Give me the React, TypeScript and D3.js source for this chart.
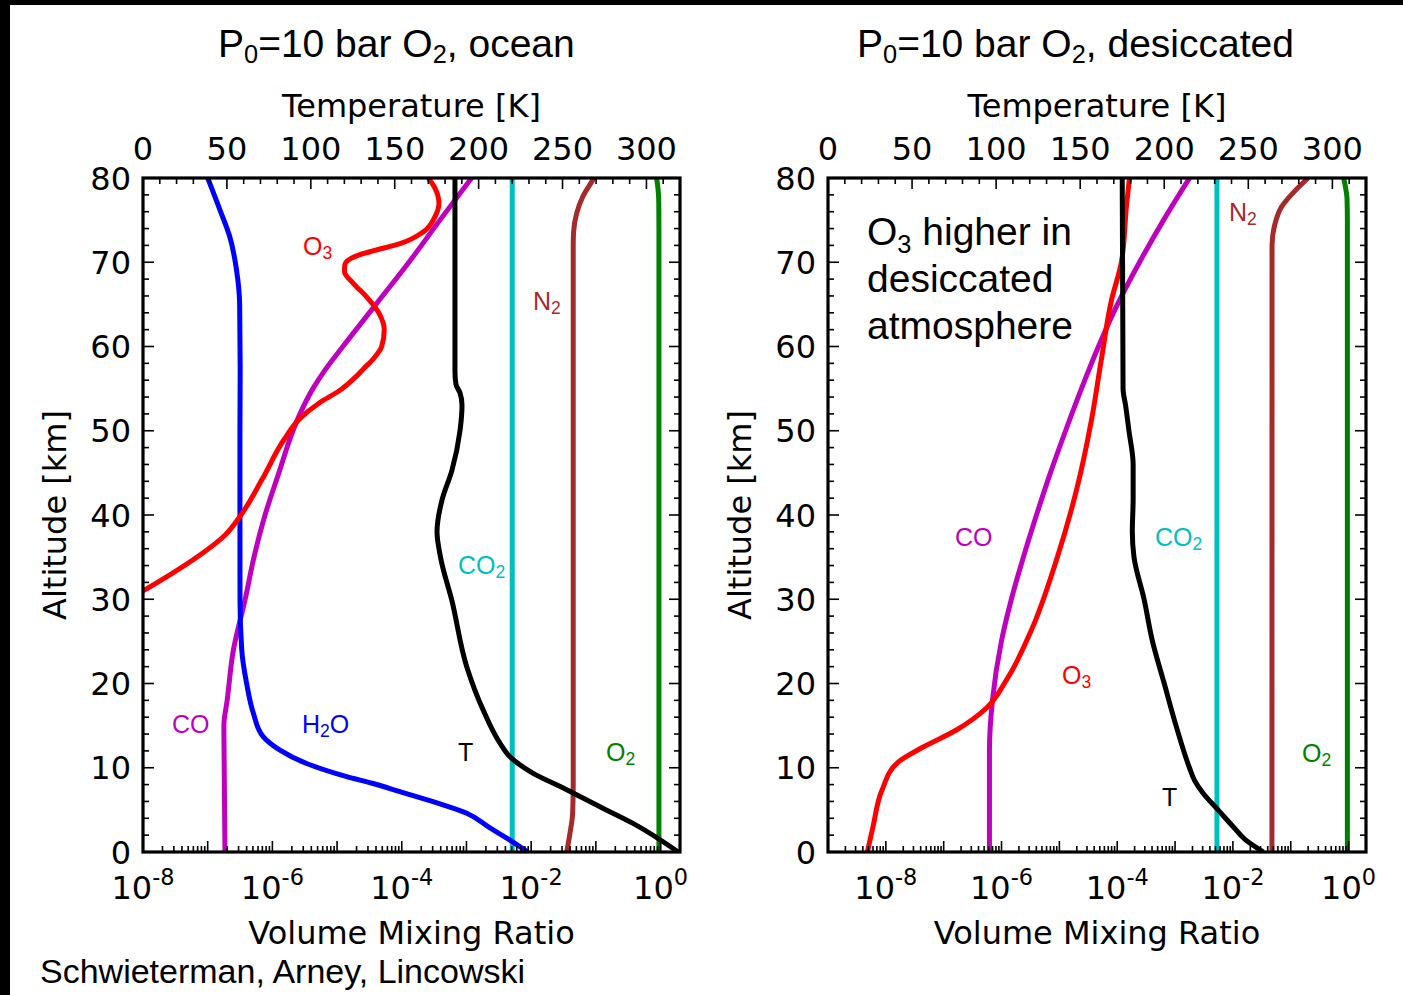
import React from "react";
import * as d3 from "d3";

// ---------------- data ----------------
const altTicks = [0, 10, 20, 30, 40, 50, 60, 70, 80];
const tempTicks = [0, 50, 100, 150, 200, 250, 300];
const vmrLabelExponents = [-8, -6, -4, -2, 0];

// Ocean case (left panel)
const oceanO3Alt = [29, 31, 32.9, 35.25, 37.6, 40, 44.2, 48.9, 51.5, 53.3, 54.8, 56.3, 57.4, 58.6, 60, 62, 63.9, 65.9, 67.5, 68.9, 69.7, 70.3, 70.9, 71.4, 72.2, 73.6, 75.4, 77, 78.8, 80];
const oceanO3 = [3e-9, 1e-8, 2.6e-8, 7.6e-8, 1.85e-7, 3.27e-7, 6.9e-7, 1.5e-6, 2.7e-6, 5.3e-6, 1.11e-5, 1.89e-5, 2.6e-5, 3.7e-5, 4.89e-5, 5.36e-5, 4.49e-5, 2.86e-5, 1.78e-5, 1.3e-5, 1.32e-5, 1.52e-5, 2.26e-5, 3.8e-5, 9.4e-5, 2.15e-4, 3.26e-4, 3.76e-4, 3.26e-4, 2.57e-4];

const oceanCOAlt = [0, 10, 15, 18, 24, 30, 35, 40, 45, 50, 52, 55, 57.2, 60, 65, 70, 75, 80];
const oceanCO = [1.85e-7, 1.8e-7, 1.78e-7, 2.0e-7, 2.5e-7, 3.8e-7, 5.2e-7, 7.7e-7, 1.26e-6, 2.08e-6, 2.67e-6, 4.23e-6, 6.5e-6, 1.23e-5, 3.99e-5, 1.29e-4, 3.89e-4, 1.2e-3];

const oceanH2OAlt = [0, 1.42, 2.85, 4.6, 5.82, 7.16, 8.13, 8.94, 10.5, 12.1, 13.7, 16.5, 20, 24, 29.9, 50, 57.2, 65, 69, 73, 76.2, 80];
const oceanH2O = [8.93e-3, 4.7e-3, 2.31e-3, 1.01e-3, 3.5e-4, 9.38e-5, 3.59e-5, 1.41e-5, 3.39e-6, 1.31e-6, 7.2e-7, 5.07e-7, 4.0e-7, 3.36e-7, 3.16e-7, 3.15e-7, 3.18e-7, 3.12e-7, 2.8e-7, 2.2e-7, 1.55e-7, 1.0e-7];

const oceanTAlt = [0, 3.4, 5.4, 7.4, 9.4, 11.3, 12.9, 16.9, 22, 29.9, 34.7, 38, 41.8, 45.3, 50, 53, 54.5, 55.5, 57, 80];
const oceanT = [319, 292, 272, 252.5, 232, 218.7, 212.8, 202.6, 192.9, 184, 177.6, 175.2, 178.2, 184.1, 188.9, 190.1, 188.9, 186.5, 185.9, 185.9];

const oceanCO2Alt = [0, 80];
const oceanCO2 = [0.0051, 0.0051];

const oceanN2Alt = [0, 2.2, 4.6, 8, 72, 73.5, 75.8, 77.8, 79.8, 80];
const oceanN2 = [0.0355, 0.0398, 0.0438, 0.0447, 0.0447, 0.0452, 0.0505, 0.063, 0.09, 0.093];

const oceanO2Alt = [0, 74, 77, 78.5, 80];
const oceanO2 = [0.945, 0.945, 0.94, 0.92, 0.87];

// Desiccated case (right panel)
const dryO3Alt = [0, 3, 7.36, 10.68, 12.34, 14.48, 17.09, 20.42, 26.35, 34.66, 42.97, 51.28, 58.4, 65.5, 70, 76.8, 80];
const dryO3 = [4.8e-9, 6.0e-9, 8.6e-9, 1.64e-8, 4.1e-8, 1.66e-7, 5.5e-7, 1.22e-6, 3.29e-6, 8.9e-6, 1.98e-5, 3.59e-5, 5.3e-5, 7.96e-5, 1.18e-4, 1.45e-4, 1.63e-4];

const dryCOAlt = [0, 12, 18, 25, 30, 35, 40, 45, 50, 55, 60, 65, 70, 75, 80];
const dryCO = [6.18e-7, 6.18e-7, 6.97e-7, 9.95e-7, 1.48e-6, 2.39e-6, 4.02e-6, 7.0e-6, 1.28e-5, 2.41e-5, 4.74e-5, 1.01e-4, 2.43e-4, 6.32e-4, 1.78e-3];

const dryTAlt = [0, 1.5, 3, 5, 7, 8.5, 10, 15, 20, 25, 30, 35, 38, 42, 46, 50, 53, 55, 80];
const dryT = [259, 248, 241, 232, 223, 218, 215, 207, 200, 193, 188, 182, 181, 181.5, 181.5, 179, 177, 175.5, 175];

const dryCO2Alt = [0, 80];
const dryCO2 = [0.0053, 0.0053];

const dryN2Alt = [0, 72, 74.4, 76.6, 78.3, 80];
const dryN2 = [0.0473, 0.0475, 0.0527, 0.0697, 0.112, 0.2];

const dryO2Alt = [0, 75, 77.5, 79, 80];
const dryO2 = [0.953, 0.953, 0.94, 0.88, 0.82];

// ---------------- styles ----------------
const COLORS: Record<string, string> = {
  O3: "#ff0000",
  CO: "#bf00bf",
  H2O: "#0000ff",
  T: "#000000",
  CO2: "#00bfbf",
  N2: "#a52a2a",
  O2: "#008000",
};

const FONT_MPL = "'DejaVu Sans', sans-serif";
const FONT_ARIAL = "'Liberation Sans', Arial, Helvetica, sans-serif";
const FS_TICK = 32;
const FS_AXIS = 32;
const Y_TOP = 178;
const Y_BOT = 852;

type Series = { name: string; alt: number[]; val: number[]; kind: "vmr" | "temp" };
type Part = { t: string; sub?: boolean };

const oceanSeries: Series[] = [
  { name: "O2", alt: oceanO2Alt, val: oceanO2, kind: "vmr" },
  { name: "N2", alt: oceanN2Alt, val: oceanN2, kind: "vmr" },
  { name: "CO2", alt: oceanCO2Alt, val: oceanCO2, kind: "vmr" },
  { name: "CO", alt: oceanCOAlt, val: oceanCO, kind: "vmr" },
  { name: "H2O", alt: oceanH2OAlt, val: oceanH2O, kind: "vmr" },
  { name: "O3", alt: oceanO3Alt, val: oceanO3, kind: "vmr" },
  { name: "T", alt: oceanTAlt, val: oceanT, kind: "temp" },
];

const drySeries: Series[] = [
  { name: "O2", alt: dryO2Alt, val: dryO2, kind: "vmr" },
  { name: "N2", alt: dryN2Alt, val: dryN2, kind: "vmr" },
  { name: "CO2", alt: dryCO2Alt, val: dryCO2, kind: "vmr" },
  { name: "CO", alt: dryCOAlt, val: dryCO, kind: "vmr" },
  { name: "O3", alt: dryO3Alt, val: dryO3, kind: "vmr" },
  { name: "T", alt: dryTAlt, val: dryT, kind: "temp" },
];

const LABEL_PARTS: Record<string, Part[]> = {
  O3: [{ t: "O" }, { t: "3", sub: true }],
  N2: [{ t: "N" }, { t: "2", sub: true }],
  CO2: [{ t: "CO" }, { t: "2", sub: true }],
  CO: [{ t: "CO" }],
  H2O: [{ t: "H" }, { t: "2", sub: true }, { t: "O" }],
  T: [{ t: "T" }],
  O2: [{ t: "O" }, { t: "2", sub: true }],
};

function Rich({ x, y, parts, size, color, family = FONT_ARIAL, subScale = 0.7, subShift = 0.16, anchor = "start" }: any) {
  const kids: any[] = [];
  let shifted = false;
  parts.forEach((p: Part, i: number) => {
    if (p.sub) {
      kids.push(
        <tspan key={i} fontSize={size * subScale} dy={shifted ? 0 : size * subShift}>
          {p.t}
        </tspan>
      );
      shifted = true;
    } else {
      kids.push(
        <tspan key={i} fontSize={size} dy={shifted ? -size * subShift : 0}>
          {p.t}
        </tspan>
      );
      shifted = false;
    }
  });
  return (
    <text x={x} y={y} fill={color} fontFamily={family} fontSize={size} textAnchor={anchor}>
      {kids}
    </text>
  );
}

function Panel({ id, x0, x1, vmrDomain, series, labels, title, titleX }: any) {
  const y = d3.scaleLinear().domain([0, 80]).range([Y_BOT, Y_TOP]);
  const xv = d3.scaleLog().domain(vmrDomain).range([x0, x1]);
  const xt = d3.scaleLinear().domain([0, 320]).range([x0, x1]);
  const cx = (x0 + x1) / 2;

  const lineGen = (s: Series) => {
    const pts = s.alt.map((a, i) => [a, s.val[i]]);
    return d3
      .line<number[]>()
      .x((d) => (s.kind === "temp" ? xt(d[1]) : xv(d[1])))
      .y((d) => y(d[0]))
      .curve(d3.curveMonotoneY)(pts) as string;
  };

  const MAJ = 11, MIN = 6;
  const tickEls: any[] = [];
  const altMinor = d3.range(0, 81, 2).filter((v) => v % 10 !== 0);
  altTicks.forEach((a) => {
    tickEls.push(<line key={"la" + a} x1={x0} x2={x0 + MAJ} y1={y(a)} y2={y(a)} />);
    tickEls.push(<line key={"ra" + a} x1={x1} x2={x1 - MAJ} y1={y(a)} y2={y(a)} />);
  });
  altMinor.forEach((a) => {
    tickEls.push(<line key={"lam" + a} x1={x0} x2={x0 + MIN} y1={y(a)} y2={y(a)} />);
    tickEls.push(<line key={"ram" + a} x1={x1} x2={x1 - MIN} y1={y(a)} y2={y(a)} />);
  });
  d3.range(0, 321, 10).forEach((t) => {
    const major = t % 50 === 0;
    tickEls.push(<line key={"t" + t} x1={xt(t)} x2={xt(t)} y1={Y_TOP} y2={Y_TOP + (major ? MAJ : MIN)} />);
  });
  const kMin = Math.floor(Math.log10(vmrDomain[0]));
  const kMax = Math.ceil(Math.log10(vmrDomain[1]));
  for (let k = kMin; k <= kMax; k++) {
    const base = Math.pow(10, k);
    if (base >= vmrDomain[0] && base <= vmrDomain[1]) {
      tickEls.push(<line key={"b" + k} x1={xv(base)} x2={xv(base)} y1={Y_BOT} y2={Y_BOT - MAJ} />);
    }
    for (let s = 2; s <= 9; s++) {
      const v = s * base;
      if (v > vmrDomain[0] && v < vmrDomain[1]) {
        tickEls.push(<line key={"bm" + k + "_" + s} x1={xv(v)} x2={xv(v)} y1={Y_BOT} y2={Y_BOT - MIN} />);
      }
    }
  }

  return (
    <g>
      <defs>
        <clipPath id={id}>
          <rect x={x0} y={Y_TOP} width={x1 - x0} height={Y_BOT - Y_TOP} />
        </clipPath>
      </defs>
      <g clipPath={`url(#${id})`}>
        {series.map((s: Series) => (
          <path key={s.name} d={lineGen(s)} fill="none" stroke={COLORS[s.name]} strokeWidth={5} strokeLinejoin="round" strokeLinecap="butt" />
        ))}
      </g>
      <g stroke="#000" strokeWidth={1.6}>{tickEls}</g>
      <rect x={x0} y={Y_TOP} width={x1 - x0} height={Y_BOT - Y_TOP} fill="none" stroke="#000" strokeWidth={3.2} />

      <g fontFamily={FONT_MPL} fontSize={FS_TICK} fill="#000">
        {altTicks.map((a) => (
          <text key={a} x={x0 - 12} y={y(a)} dy="0.36em" textAnchor="end">
            {a}
          </text>
        ))}
        {tempTicks.map((t) => (
          <text key={t} x={xt(t)} y={160} textAnchor="middle">
            {t}
          </text>
        ))}
        {vmrLabelExponents.map((e) => (
          <text key={e} x={xv(Math.pow(10, e))} y={899} textAnchor="middle">
            <tspan>10</tspan>
            <tspan fontSize={FS_TICK * 0.7} dy={-FS_TICK * 0.45}>
              {String(e)}
            </tspan>
          </text>
        ))}
      </g>

      <g fontFamily={FONT_MPL} fontSize={FS_AXIS} fill="#000">
        <text x={cx} y={117} textAnchor="middle">Temperature [K]</text>
        <text x={cx} y={944} textAnchor="middle">Volume Mixing Ratio</text>
        <text transform={`translate(${x0 - 77},${(Y_TOP + Y_BOT) / 2}) rotate(-90)`} textAnchor="middle">
          Altitude [km]
        </text>
      </g>

      <Rich x={titleX} y={57} size={39} color="#000" parts={title} subScale={0.65} subShift={0.15} />

      {labels.map((l: any) => (
        <Rich key={l.name} x={l.x} y={l.y} size={25} color={COLORS[l.name]} parts={LABEL_PARTS[l.name]} />
      ))}
    </g>
  );
}

export default function App() {
  const W = 1403, H = 995;
  const oceanLabels = [
    { name: "O3", x: 303, y: 255 },
    { name: "N2", x: 533, y: 310 },
    { name: "CO2", x: 458, y: 574 },
    { name: "CO", x: 172, y: 733 },
    { name: "H2O", x: 302, y: 733 },
    { name: "T", x: 458, y: 761 },
    { name: "O2", x: 606, y: 761 },
  ];
  const dryLabels = [
    { name: "N2", x: 1229, y: 221 },
    { name: "CO", x: 955, y: 546 },
    { name: "CO2", x: 1155, y: 546 },
    { name: "O3", x: 1062, y: 684 },
    { name: "T", x: 1162, y: 806 },
    { name: "O2", x: 1302, y: 762 },
  ];
  const AF = 39;
  return (
    <svg width={W} height={H} style={{ position: "absolute", left: 0, top: 0 }}>
      <rect x={0} y={0} width={W} height={H} fill="#fff" />
      <rect x={0} y={0} width={W} height={5} fill="#000" />
      <rect x={0} y={0} width={10} height={H} fill="#000" />
      <Panel
        id="clipL"
        x0={143}
        x1={680}
        vmrDomain={[1e-8, 2]}
        series={oceanSeries}
        labels={oceanLabels}
        titleX={218}
        title={[{ t: "P" }, { t: "0", sub: true }, { t: "=10 bar O" }, { t: "2", sub: true }, { t: ", ocean" }]}
      />
      <Panel
        id="clipR"
        x0={828}
        x1={1366}
        vmrDomain={[1e-9, 2]}
        series={drySeries}
        labels={dryLabels}
        titleX={857}
        title={[{ t: "P" }, { t: "0", sub: true }, { t: "=10 bar O" }, { t: "2", sub: true }, { t: ", desiccated" }]}
      />
      <g fontFamily={FONT_ARIAL} fontSize={AF} fill="#000">
        <text x={867} y={245}>
          <tspan>O</tspan>
          <tspan fontSize={AF * 0.65} dy={AF * 0.2}>3</tspan>
          <tspan dy={-AF * 0.2}> higher in</tspan>
        </text>
        <text x={867} y={292}>desiccated</text>
        <text x={867} y={339}>atmosphere</text>
      </g>
      <text x={40} y={983} fontFamily={FONT_ARIAL} fontSize={34} fill="#000">
        Schwieterman, Arney, Lincowski
      </text>
    </svg>
  );
}
